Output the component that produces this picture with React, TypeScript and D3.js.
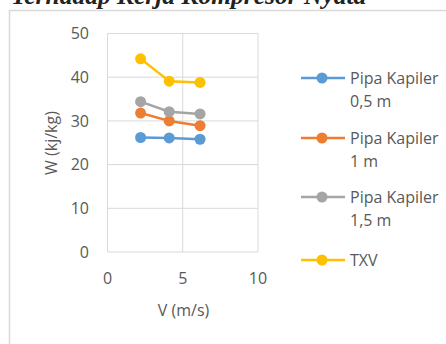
import React from "react";
import * as d3 from "d3";

const velocities = [2.2, 4.1, 6.15];
const seriesNames = ["Pipa Kapiler 0,5 m", "Pipa Kapiler 1 m", "Pipa Kapiler 1,5 m", "TXV"];
const legendLines = [["Pipa Kapiler", "0,5 m"], ["Pipa Kapiler", "1 m"], ["Pipa Kapiler", "1,5 m"], ["TXV"]];
const kapiler05 = [26.2, 26.1, 25.8];
const kapiler1 = [31.8, 30.0, 28.9];
const kapiler15 = [34.4, 32.1, 31.6];
const txv = [44.2, 39.1, 38.8];
const colors = ["#5B9BD5", "#ED7D31", "#A5A5A5", "#FFC000"];
const xTicks = [0, 5, 10];
const yTicks = [0, 10, 20, 30, 40, 50];
const titleText = "Terhadap Kerja Kompresor Nyata";
const xTitle = "V (m/s)";
const yTitle = "W (kj/kg)";

export default function App() {
  const W = 446, H = 344;
  const x = d3.scaleLinear().domain([0, 10]).range([107.5, 258]);
  const y = d3.scaleLinear().domain([0, 50]).range([252, 33.5]);
  const data = [kapiler05, kapiler1, kapiler15, txv];
  const line = d3.line<number>().x((_, i) => x(velocities[i])).y((d) => y(d));
  const font = "'Open Sans', sans-serif";
  const textColor = "#595959";
  const fs = 16;
  const legendRowY = [78, 138, 197, 260];
  return (
    <svg width={W} height={H} style={{ position: "absolute", left: 0, top: 0, background: "#fff" }}>
      <text x={11} y={3.5} fontFamily="'Liberation Serif', serif" fontStyle="italic" fontWeight="bold" fontSize={25.5} fill="#222">{titleText}</text>
      <rect x={9.5} y={10.5} width={460} height={360} fill="none" stroke="#D9D9D9" strokeWidth={1.5} />
      {yTicks.map((t) => (
        <line key={"gy" + t} x1={x(0)} x2={x(10)} y1={y(t)} y2={y(t)} stroke="#D9D9D9" strokeWidth={1} />
      ))}
      {xTicks.map((t) => (
        <line key={"gx" + t} x1={x(t)} x2={x(t)} y1={y(0)} y2={y(50)} stroke="#D9D9D9" strokeWidth={1} />
      ))}
      {yTicks.map((t) => (
        <text key={"ty" + t} x={89} y={y(t)} dy="0.35em" textAnchor="end" fontFamily={font} fontSize={fs} fill={textColor}>{t}</text>
      ))}
      {xTicks.map((t) => (
        <text key={"tx" + t} x={x(t)} y={278} dy="0.35em" textAnchor="middle" fontFamily={font} fontSize={fs} fill={textColor}>{t}</text>
      ))}
      <text x={183.5} y={310} dy="0.35em" textAnchor="middle" fontFamily={font} fontSize={fs} fill={textColor}>{xTitle}</text>
      <text transform={`translate(51.5,143) rotate(-90)`} dy="0.35em" textAnchor="middle" fontFamily={font} fontSize={fs} fill={textColor}>{yTitle}</text>
      {data.map((s, si) => (
        <g key={seriesNames[si]}>
          <path d={line(s) || ""} fill="none" stroke={colors[si]} strokeWidth={2.5} strokeLinejoin="round" />
          {s.map((v, i) => (
            <circle key={i} cx={x(velocities[i])} cy={y(v)} r={5.5} fill={colors[si]} />
          ))}
        </g>
      ))}
      {legendLines.map((lines, si) => (
        <g key={"lg" + si}>
          <line x1={301} x2={345} y1={legendRowY[si]} y2={legendRowY[si]} stroke={colors[si]} strokeWidth={2.5} />
          <circle cx={322} cy={legendRowY[si]} r={5.5} fill={colors[si]} />
          {lines.map((l, li) => (
            <text key={li} x={350} y={legendRowY[si] + li * 23} dy="0.35em" fontFamily={font} fontSize={fs} fill={textColor}>{l}</text>
          ))}
        </g>
      ))}
    </svg>
  );
}
